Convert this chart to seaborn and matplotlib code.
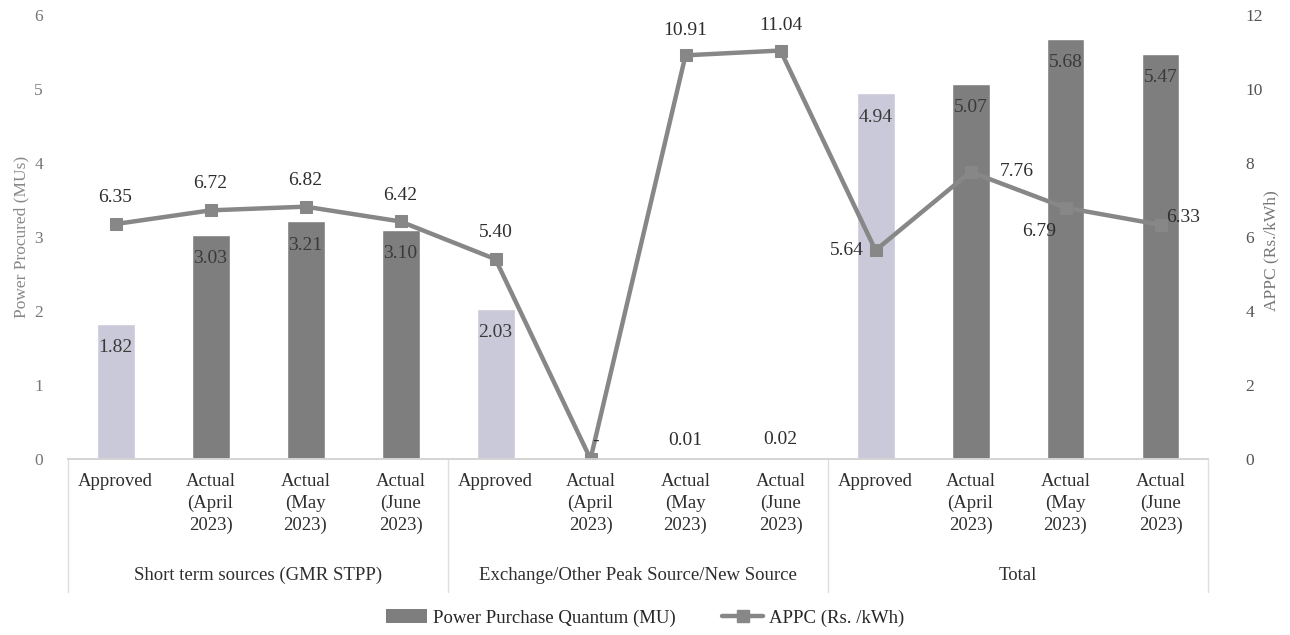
import matplotlib
matplotlib.use("Agg")
import matplotlib.pyplot as plt
import matplotlib.transforms as mtransforms
from matplotlib.lines import Line2D
from matplotlib.patches import Patch
import pandas as pd
import seaborn as sns

# chart values
categories = ['Approved', 'Actual\n(April\n2023)', 'Actual\n(May\n2023)', 'Actual\n(June\n2023)'] * 3
groups = ['Short term sources (GMR STPP)', 'Exchange/Other Peak Source/New Source', 'Total']
quantum = [1.82, 3.03, 3.21, 3.10, 2.03, 0.00, 0.01, 0.02, 4.94, 5.07, 5.68, 5.47]
appc = [6.35, 6.72, 6.82, 6.42, 5.40, 0.00, 10.91, 11.04, 5.64, 7.76, 6.79, 6.33]

sns.set_style('white')
plt.rcParams['font.family'] = ['Liberation Serif', 'DejaVu Serif']

text_col = '#2e2e2e'
light_bar = '#c9c9da'
dark_bar = '#7e7e7e'
line_col = '#878787'

df = pd.DataFrame({
    'pos': list(range(len(categories))),
    'slot': [str(i) for i in range(len(categories))],
    'kind': ['Approved' if c == 'Approved' else 'Actual' for c in categories],
    'quantum': quantum,
    'appc': appc,
})

fig = plt.figure(figsize=(12.9, 6.35), dpi=100)
ax1 = fig.add_axes([68 / 1290, 176 / 635, 1140 / 1290, 444 / 635])

sns.barplot(data=df, x='slot', y='quantum', hue='kind', order=df['slot'],
            palette={'Approved': light_bar, 'Actual': dark_bar},
            dodge=False, width=0.4, legend=False, saturation=1, ax=ax1)
ax1.set_xlim(-0.5, len(categories) - 0.5)
ax1.set_ylim(0, 6)
ax1.set_yticks(range(0, 7))
ax1.set_xticks(range(len(categories)))
ax1.set_xticklabels(categories, fontsize=13.5, color=text_col, linespacing=1.35)
ax1.tick_params(axis='x', length=0, pad=10)
ax1.tick_params(axis='y', length=0, pad=18, labelsize=12.5, labelcolor='#777777')
ax1.set_xlabel('')
ax1.set_ylabel('Power Procured (MUs)', fontsize=12.5, color='#888888')
ax1.yaxis.set_label_coords(-0.034, 0.5)

ax2 = ax1.twinx()
sns.lineplot(data=df, x='pos', y='appc', color=line_col, lw=3.2, marker='s',
             markersize=9, markeredgecolor=line_col, ax=ax2)
ax2.set_ylim(0, 12)
ax2.set_yticks(range(0, 13, 2))
ax2.tick_params(axis='y', length=0, pad=27, labelsize=12.5, labelcolor='#555555')
ax2.set_ylabel('APPC (Rs./kWh)', fontsize=12.5, color='#777777')
ax2.yaxis.set_label_coords(1.049, 0.47)
ax2.set_xlabel('')

for a in (ax1, ax2):
    for s in ('top', 'left', 'right'):
        a.spines[s].set_visible(False)
    a.spines['bottom'].set_color('#d4d4d4')
    a.spines['bottom'].set_linewidth(1.2)

# bar labels
for i, v in enumerate(quantum):
    if v >= 0.5:
        ax2.annotate(f'{v:.2f}', (i, v), xycoords=ax1.transData, xytext=(0, -17),
                     textcoords='offset points', ha='center', va='center',
                     fontsize=14, color='#3a3a3a')
    else:
        lab = '-' if v == 0 else f'{v:.2f}'
        dx = 4 if v == 0 else 0
        ax2.annotate(lab, (i, v), xycoords=ax1.transData, xytext=(dx, 13),
                     textcoords='offset points', ha='center', va='center',
                     fontsize=14, color=text_col)

# line labels
offsets = [(0, 19), (0, 19), (0, 19), (0, 19), (0, 19), None, (0, 18), (0, 18),
           (-21, 0), (33, 0), (-19, -17), (16, 5)]
for i, v in enumerate(appc):
    if offsets[i] is None:
        continue
    ax2.annotate(f'{v:.2f}', (i, v), xytext=offsets[i], textcoords='offset points',
                 ha='center', va='center', fontsize=14, color=text_col)

# group labels and separators
trans = mtransforms.blended_transform_factory(ax1.transData, ax1.transAxes)
for g, name in enumerate(groups):
    ax1.text(g * 4 + 1.5, -0.262, name, transform=trans, ha='center', va='center',
             fontsize=13.5, color=text_col)
for b in (-0.5, 3.5, 7.5, 11.5):
    ax1.plot([b, b], [0, -0.30], transform=trans, color='#dedede', lw=1, clip_on=False)

handles = [Patch(facecolor=dark_bar, edgecolor='none'),
           Line2D([], [], color=line_col, lw=3.2, marker='s', markersize=8)]
fig.legend(handles, ['Power Purchase Quantum (MU)', 'APPC (Rs. /kWh)'],
           loc='center', bbox_to_anchor=(0.5, 17 / 635), ncol=2, frameon=False,
           fontsize=13.5, handlelength=2.2, columnspacing=2.5, handletextpad=0.3)

fig.savefig('out.png', dpi=100)
